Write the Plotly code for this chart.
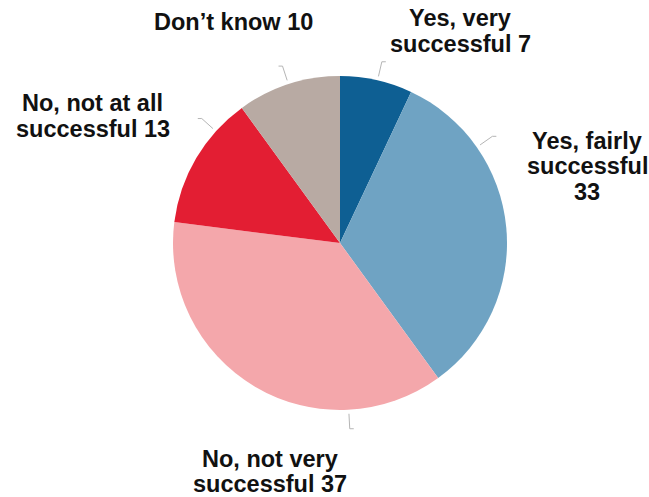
import math
import plotly.graph_objects as go

# Survey answers, clockwise from 12 o'clock
categories = [
    "Yes, very successful",
    "Yes, fairly successful",
    "No, not very successful",
    "No, not at all successful",
    "Don’t know",
]
values = [7, 33, 37, 13, 10]
colors = ["#0e5f93", "#6fa3c3", "#f4a7ab", "#e31e33", "#b8aaa3"]

# Label text, one entry per line; {v} is filled with the slice value
label_templates = [
    ["Yes, very", "successful {v}"],
    ["Yes, fairly", "successful", "{v}"],
    ["No, not very", "successful {v}"],
    ["No, not at all", "successful {v}"],
    ["Don’t know {v}"],
]

# Label placement (centre x, first baseline y in pixels) and leader angles
label_pos = [(460, 26.5), (587, 148.5), (270, 466.5), (93, 111.5), (233.5, 30)]
leader_angle = [13, 55, 177, 312, 342]

W, H = 649, 497
CX, CY, R = 340, 243, 167
FS = 23.5
LINE_GAP = 25.5


def px(x, y):
    return x / W, 1 - y / H


fig = go.Figure(
    go.Pie(
        labels=categories,
        values=values,
        sort=False,
        direction="clockwise",
        rotation=0,
        marker=dict(colors=colors, line=dict(width=0)),
        textinfo="none",
        hoverinfo="label+value",
        showlegend=False,
        domain=dict(
            x=[(CX - R) / W, (CX + R) / W],
            y=[1 - (CY + R) / H, 1 - (CY - R) / H],
        ),
    )
)

annotations = []
for tmpl, v, (lx, ly) in zip(label_templates, values, label_pos):
    for i, line in enumerate(tmpl):
        x, y = px(lx, ly + i * LINE_GAP - 8)
        annotations.append(
            dict(
                x=x, y=y, xref="paper", yref="paper",
                text="<b>" + line.format(v=v) + "</b>",
                showarrow=False, xanchor="center", yanchor="middle",
                font=dict(family="Arial, Liberation Sans, sans-serif", size=FS, color="#111111"),
            )
        )

shapes = []
for ang in leader_angle:
    a = math.radians(ang)
    sx, sy = CX + (R + 4) * math.sin(a), CY - (R + 4) * math.cos(a)
    ex, ey = CX + (R + 19) * math.sin(a), CY - (R + 19) * math.cos(a)
    tx = ex + (4 if math.sin(a) >= 0 else -4)
    p0, p1, p2 = px(sx, sy), px(ex, ey), px(tx, ey)
    shapes.append(
        dict(
            type="path", xref="paper", yref="paper",
            path=f"M {p0[0]} {p0[1]} L {p1[0]} {p1[1]} L {p2[0]} {p2[1]}",
            line=dict(color="#b5b5b5", width=1),
        )
    )

fig.update_layout(
    width=W, height=H,
    margin=dict(l=0, r=0, t=0, b=0),
    paper_bgcolor="white",
    plot_bgcolor="white",
    annotations=annotations,
    shapes=shapes,
)

fig.write_html("out.html")
